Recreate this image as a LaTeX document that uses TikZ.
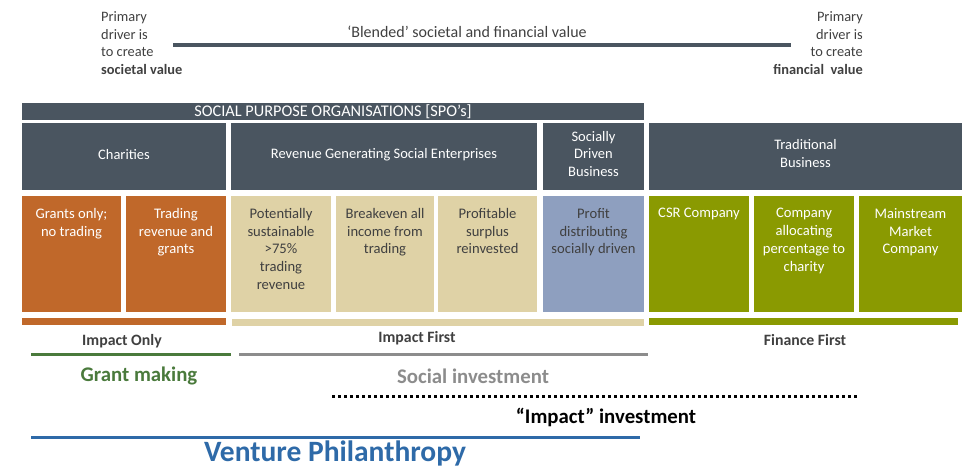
\documentclass[tikz,border=0pt]{standalone}
\usepackage{fontspec}
\setmainfont{Carlito}
\definecolor{slate}{HTML}{4A5560}
\definecolor{rust}{HTML}{C0682A}
\definecolor{sand}{HTML}{DFD2A6}
\definecolor{steel}{HTML}{8E9FBF}
\definecolor{olive}{HTML}{8A9A01}
\definecolor{leaf}{HTML}{4A7A3C}
\definecolor{ash}{HTML}{8C8C8C}
\definecolor{sea}{HTML}{2E6AA8}
\definecolor{ink}{HTML}{404040}
\begin{document}
\begin{tikzpicture}[x=1pt,y=-1pt,
  cell/.style={anchor=north west, inner sep=0pt, outer sep=0pt, draw=none},
  small/.style={font=\fontsize{14.4}{17.5}\selectfont, text=ink, inner sep=0pt},
  head/.style={font=\fontsize{14.5}{17.6}\selectfont, text=white, align=center, inner sep=0pt},
  body/.style={font=\fontsize{14.6}{17.8}\selectfont, align=center, inner sep=0pt, anchor=north},
  tier/.style={font=\fontsize{15.8}{17}\selectfont\bfseries, text=ink, inner sep=0pt},
  big/.style={font=\fontsize{20.8}{22}\selectfont\bfseries, inner sep=0pt},
  rule/.style={line width=3pt}
]
\useasboundingbox (0,0) rectangle (962,469);

% spectrum endpoints and the blended-value axis
\node[small, anchor=west, align=left] (soc) at (101,43)
  {Primary\\driver is\\to create\\\textbf{societal value}};
\node[small, anchor=east, align=right] (fin) at (863,43)
  {Primary\\driver is\\to create\\\textbf{financial\ \ value}};
\coordinate (axisL) at (173,45);
\coordinate (axisR) at (791,45);
\draw[slate, line width=3.5pt] (axisL) -- (axisR);
\node[small, font=\fontsize{16}{18}\selectfont] (blend) at (467,32) {`Blended' societal and financial value};

% SPO banner
\node[cell, fill=slate, minimum width=622pt, minimum height=17pt] (spo) at (22,103) {};
\node[head, font=\fontsize{16.3}{18}\selectfont] (spot) at (spo.center) {SOCIAL PURPOSE ORGANISATIONS [SPO's]};

% organisation types
\node[cell, fill=slate, minimum width=204pt, minimum height=67pt] (char) at (22,123) {};
\node[head] at ([yshift=2pt]char.center) {Charities};
\node[cell, fill=slate, minimum width=306pt, minimum height=67pt] (rgse) at (231,123) {};
\node[head] at ([yshift=2pt]rgse.center) {Revenue Generating Social Enterprises};
\node[cell, fill=slate, minimum width=101pt, minimum height=67pt] (sdb) at (543,123) {};
\node[head] at ([yshift=2.5pt]sdb.center) {Socially\\Driven\\Business};
\node[cell, fill=slate, minimum width=313pt, minimum height=67pt] (trad) at (649,123) {};
\node[head] at ([yshift=3pt]trad.center) {Traditional\\Business};

% sub-categories
\node[cell, fill=rust, minimum width=99pt, minimum height=116pt] (grants) at (22,196) {};
\node[body, text=white] at ([yshift=-12pt]grants.north) {Grants only;\\no trading};
\node[cell, fill=rust, minimum width=100pt, minimum height=116pt] (trading) at (126,196) {};
\node[body, text=white] at ([yshift=-12pt]trading.north) {Trading\\revenue and\\grants};
\node[cell, fill=sand, minimum width=100pt, minimum height=116pt] (pot) at (231,196) {};
\node[body, text=ink] at ([yshift=-12pt]pot.north) {Potentially\\sustainable\\>75\%\\trading\\revenue};
\node[cell, fill=sand, minimum width=98pt, minimum height=116pt] (brk) at (336,196) {};
\node[body, text=ink] at ([yshift=-12pt]brk.north) {Breakeven all\\income from\\trading};
\node[cell, fill=sand, minimum width=99pt, minimum height=116pt] (prof) at (438,196) {};
\node[body, text=ink] at ([yshift=-12pt]prof.north) {Profitable\\surplus\\reinvested};
\node[cell, fill=steel, minimum width=101pt, minimum height=116pt] (dist) at (543,196) {};
\node[body, text=ink] at ([yshift=-12pt]dist.north) {Profit\\distributing\\socially driven};
\node[cell, fill=olive, minimum width=100pt, minimum height=116pt] (csr) at (649,196) {};
\node[body, text=white] at ([yshift=-12pt]csr.north) {CSR Company};
\node[cell, fill=olive, minimum width=100pt, minimum height=116pt] (alloc) at (754,196) {};
\node[body, text=white] at ([yshift=-12pt]alloc.north) {Company\\allocating\\percentage to\\charity};
\node[cell, fill=olive, minimum width=103pt, minimum height=116pt] (main) at (859,196) {};
\node[body, text=white] at ([yshift=-12pt]main.north) {Mainstream\\Market\\Company};

% colour bars
\node[cell, fill=rust, minimum width=204pt, minimum height=7pt] (barA) at (22,318) {};
\node[cell, fill=sand, minimum width=412pt, minimum height=7pt] (barB) at (232,319) {};
\node[cell, fill=olive, minimum width=309pt, minimum height=7pt] (barC) at (649,318) {};

% investor orientation
\node[tier] (only) at (122,341) {Impact Only};
\node[tier] (first) at (417,338) {Impact First};
\node[tier] (ffirst) at (805,340) {Finance First};
\coordinate (gL) at (31,354);  \coordinate (gR) at (231,354);
\coordinate (sL) at (239,354); \coordinate (sR) at (648,354);
\draw[rule, leaf] (gL) -- (gR);
\draw[rule, ash] (sL) -- (sR);

% funding approaches
\node[big, text=leaf] (grantm) at (139,376) {Grant making};
\node[big, text=ash] (socinv) at (473,376) {Social investment};
\coordinate (dL) at (332,396); \coordinate (dR) at (857,396);
\draw[line width=3pt, dash pattern=on 3pt off 3pt] (dL) -- (dR);
\node[big, text=black] (impinv) at (606,417) {``Impact'' investment};
\coordinate (vL) at (31,437); \coordinate (vR) at (640,437);
\draw[rule, sea] (vL) -- (vR);
\node[font=\fontsize{29.5}{30}\selectfont\bfseries, text=sea, inner sep=0pt] (vp) at (335,453) {Venture Philanthropy};
\end{tikzpicture}
\end{document}
